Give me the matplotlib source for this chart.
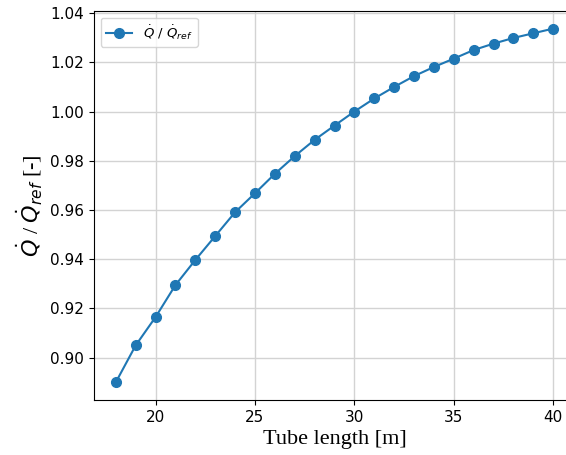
import numpy as np
import matplotlib
matplotlib.use("Agg")
import matplotlib.pyplot as plt

# tube length [m] and normalised heat flow
tube_length = [18, 19, 20, 21, 22, 23, 24, 25, 26, 27, 28, 29,
               30, 31, 32, 33, 34, 35, 36, 37, 38, 39, 40]
q_ratio = [0.890, 0.905, 0.9165, 0.9295, 0.9397, 0.9494, 0.9591, 0.9668,
           0.9747, 0.9819, 0.9885, 0.9943, 1.0000, 1.0053, 1.0100, 1.0144,
           1.0181, 1.0215, 1.0250, 1.0276, 1.0299, 1.0318, 1.0337]

fig = plt.figure(figsize=(5.66, 4.55), dpi=100)
ax = fig.add_axes([0.166, 0.121, 0.85, 0.855])

ax.plot(tube_length, q_ratio, 'o-', color='#1f77b4', markersize=7,
        linewidth=1.5, label=r'$\dot{Q}$ / $\dot{Q}_{ref}$')
ax.grid(True, color='#d3d3d3', linewidth=1)
ax.set_axisbelow(True)

ax.set_xticks([20, 25, 30, 35, 40])
ax.set_yticks(np.arange(0.90, 1.041, 0.02))
ax.tick_params(labelsize=11)

ax.set_xlabel('Tube length [m]', fontsize=16, family='Liberation Serif')
ax.set_ylabel(r'$\dot{Q}$ / $\dot{Q}_{ref}$ [-]', fontsize=16,
              family='Liberation Serif')
ax.legend(loc='upper left', fontsize=9.5)

fig.savefig('out.png', dpi=100)
